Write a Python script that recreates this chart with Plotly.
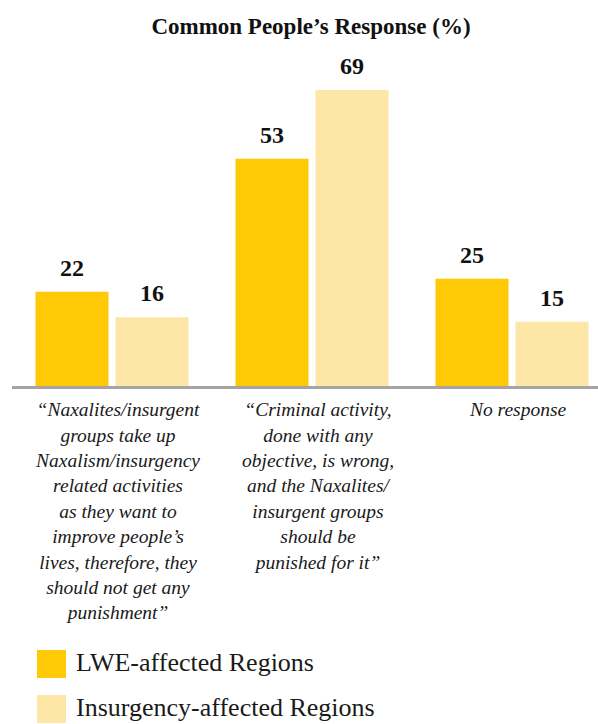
import plotly.graph_objects as go

# Survey data
categories = [
    "“Naxalites/insurgent<br>groups take up<br>Naxalism/insurgency<br>related activities<br>as they want to<br>improve people’s<br>lives, therefore, they<br>should not get any<br>punishment”",
    "“Criminal activity,<br>done with any<br>objective, is wrong,<br>and the Naxalites/<br>insurgent groups<br>should be<br>punished for it”",
    "No response",
]
series_names = ["LWE-affected Regions", "Insurgency-affected Regions"]
lwe_values = [22, 53, 25]
insurgency_values = [16, 69, 15]

colors = ["#FFC906", "#FEE7A6"]
serif = "Liberation Serif, Times New Roman, serif"

W, H = 598, 724
ML, MR, MT, MB = 12, 0, 60, 338
plot_w = W - ML - MR
plot_h = H - MT - MB

x_idx = list(range(len(categories)))
x_range = [-0.5, -0.5 + plot_w / 200.0]

fig = go.Figure()
for name, vals, col in zip(series_names, [lwe_values, insurgency_values], colors):
    fig.add_trace(go.Bar(
        x=x_idx, y=vals, name=name,
        marker=dict(color=col, line=dict(width=0)),
        showlegend=False, hoverinfo="skip",
    ))

bargap = 0.2
bargroupgap = 0.0875
slot = (1 - bargap) / 2

# value labels above each bar
annotations = []
for k, vals in enumerate([lwe_values, insurgency_values]):
    off = (k - 0.5) * slot
    for i, v in enumerate(vals):
        annotations.append(dict(
            x=i + off, y=v, xref="x", yref="y", text=f"<b>{v}</b>",
            showarrow=False, yanchor="middle", yshift=24,
            font=dict(family=serif, size=24, color="#111"),
        ))

# legend drawn as large swatches with text
def px_to_paper_x(px):
    return (px - ML) / plot_w

def px_to_paper_y(py):
    return (H - MB - py) / plot_h

shapes = []
legend_rows = [(650, 678), (695, 723)]
for (top, bot), name, col in zip(legend_rows, series_names, colors):
    shapes.append(dict(
        type="rect", xref="paper", yref="paper",
        x0=px_to_paper_x(37), x1=px_to_paper_x(66),
        y0=px_to_paper_y(bot), y1=px_to_paper_y(top),
        fillcolor=col, line=dict(width=0), layer="above",
    ))
    annotations.append(dict(
        x=px_to_paper_x(74), y=px_to_paper_y((top + bot) / 2 - 2),
        xref="paper", yref="paper", text=name, showarrow=False,
        xanchor="left", yanchor="middle",
        font=dict(family=serif, size=26, color="#1a1a1a"),
    ))

fig.update_layout(
    width=W, height=H,
    margin=dict(l=ML, r=MR, t=MT, b=MB),
    paper_bgcolor="white", plot_bgcolor="white",
    barmode="group", bargap=bargap, bargroupgap=bargroupgap,
    title=dict(
        text="<b>Common People’s Response (%)</b>",
        x=311 / W, xanchor="center", y=1 - 26 / H, yanchor="middle",
        font=dict(family=serif, size=23, color="#111"),
    ),
    xaxis=dict(
        range=x_range, tickvals=x_idx, ticktext=categories,
        showline=True, linecolor="#a4a4a4", linewidth=3,
        showgrid=False, zeroline=False, ticks="",
        tickfont=dict(family=serif, size=19.5, color="#1a1a1a", style="italic"),
        ticklabelshift=6, ticklabelstandoff=4,
        tickangle=0, fixedrange=True,
    ),
    yaxis=dict(range=[0, 76], visible=False, fixedrange=True),
    annotations=annotations,
    shapes=shapes,
)

fig.write_html("out.html")
